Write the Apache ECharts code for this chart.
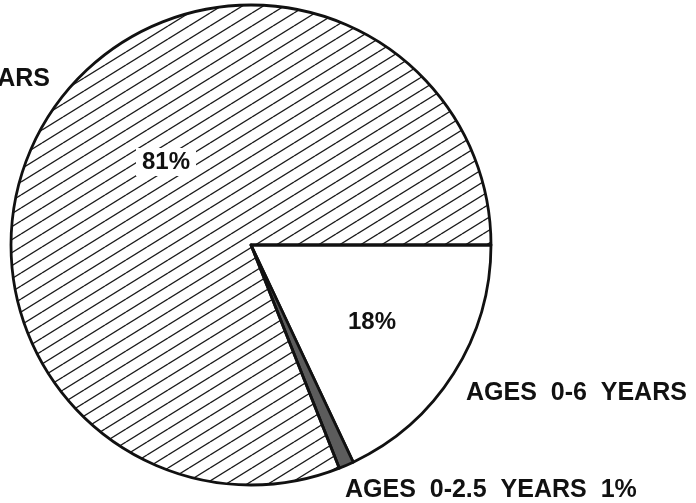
<!DOCTYPE html>
<html>
<head>
<meta charset="utf-8">
<script src="https://cdn.jsdelivr.net/npm/echarts@6/dist/echarts.min.js"></script>
<style>
  html, body { margin: 0; padding: 0; background: #fff; }
  #main { width: 696px; height: 503px; }
</style>
</head>
<body>
<div id="main"></div>
<script>
var names = ["AGES 0-6 YEARS", "AGES 0-2.5 YEARS", "AGES 6-18 YEARS"]
var values = [18, 1, 81]

// hatch tile: "/" lines
function hatch() {
  var w = 21, h = 13
  var c = document.createElement("canvas")
  c.width = w
  c.height = h
  var ctx = c.getContext("2d")
  ctx.strokeStyle = "#1a1a1a"
  ctx.lineWidth = 1.3
  for (var k = 0; k < 3; k++) {
    ctx.beginPath()
    ctx.moveTo(0, k * h)
    ctx.lineTo(w, (k - 1) * h)
    ctx.stroke()
  }
  return c
}

var fills = ["#ffffff", "#5c5c5c", { image: hatch(), repeat: "repeat" }]

// where each text goes
var pctPos = [[372, 322], null, [166, 162]]
var namePos = [
  { x: 466, y: 393, align: "left" },
  { x: 345, y: 490, align: "left" },
  { x: 50, y: 79, align: "right" },
]

var chart = echarts.init(document.getElementById("main"))

var option = {
  animation: false,
  series: [
    {
      type: "pie",
      center: [251, 245],
      radius: 240,
      startAngle: 0,
      clockwise: true,
      silent: true,
      itemStyle: { borderColor: "#111", borderWidth: 2.8 },
      labelLine: { show: false },
      label: {
        show: true,
        position: "inside",
        fontFamily: "Liberation Sans",
        fontWeight: "bold",
        fontSize: 24,
        color: "#111",
        formatter: "{c}%",
        backgroundColor: "#fff",
        padding: [2, 6],
      },
      labelLayout: function(p) {
        var pos = pctPos[p.dataIndex]
        if (!pos) return {}
        return { x: pos[0], y: pos[1], align: "center", verticalAlign: "middle" }
      },
      data: values.map(function(v, i) {
        return {
          name: names[i],
          value: v,
          itemStyle: { color: fills[i] },
          label: { show: i !== 1 },
        }
      }),
    },
    {
      type: "pie",
      center: [251, 245],
      radius: 240,
      startAngle: 0,
      clockwise: true,
      silent: true,
      itemStyle: { color: "transparent", borderWidth: 0 },
      labelLine: { show: false },
      label: {
        show: true,
        position: "inside",
        fontFamily: "Liberation Sans",
        fontWeight: "bold",
        fontSize: 25,
        color: "#111",
        formatter: function(p) {
          var s = p.name.replace(/ /g, "  ")
          return p.dataIndex === 1 ? s + "  " + p.value + "%" : s
        },
      },
      labelLayout: function(p) {
        var pos = namePos[p.dataIndex]
        return { x: pos.x, y: pos.y, align: pos.align, verticalAlign: "middle" }
      },
      data: values.map(function(v, i) {
        return { name: names[i], value: v }
      }),
    },
  ],
}

chart.setOption(option)
</script>
</body>
</html>
